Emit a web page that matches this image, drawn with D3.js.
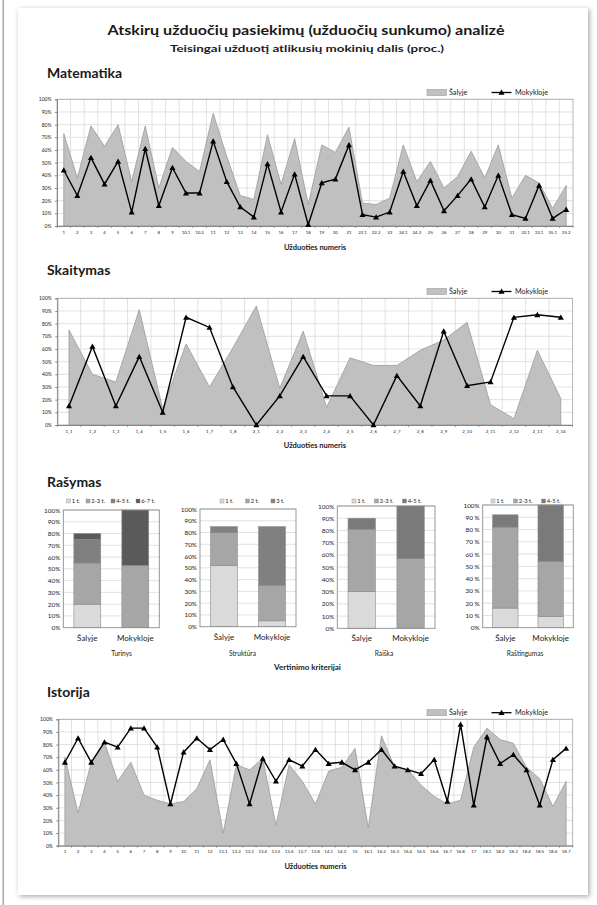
<!DOCTYPE html>
<html><head><meta charset="utf-8">
<script src="https://cdn.jsdelivr.net/npm/d3@7"></script>
<style>
body{margin:0;background:#fff}
svg{display:block}
text{font-family:Lato,"Noto Sans",sans-serif;fill:#1a1a1a}
</style>
</head><body>
<svg id="c" width="597" height="905"></svg>
<script>
// ---------- DATA ----------
const mathCats = ["1","2","3","4","5","6","7","8","9","10.1","10.2","11","12","13","14","15","16","17","18","19","20","21","22.1","22.2","23","24.1","24.2","25","26","27","28","29","30","31","32.1","33.1","35.1","35.2"];
const mathSalyje = [73,38,79,63,80,35,79,30,62,51,43,89,55,24,21,72,33,69,17,64,58,78,18,17,22,64,35,51,30,39,59,38,64,22,40,34,14,32];
const mathMokykloje = [44,24,54,33,51,11,61,16,46,26,26,67,35,15,7,49,11,41,1,34,37,64,9,7,11,43,16,36,12,24,37,15,40,9,6,32,6,13];

const readCats = ["1_1","1_2","1_3","1_4","1_5","1_6","1_7","1_8","2_1","2_2","2_3","2_4","2_5","2_6","2_7","2_8","2_9","2_10","2_11","2_12","2_13","2_14"];
const readSalyje = [75,40,34,91,13,64,30,61,94,29,74,14,53,47,47,59,67,81,16,5,59,21];
const readMokykloje = [15,62,15,54,10,85,77,30,0,23,54,23,23,0,39,15,74,31,34,85,87,85];

const histCats = ["1","2","3","4","5","6","7","8","9","10","11","12","13.1","13.2","13.3","13.4","13.5","13.6","13.7","13.8","14.1","14.2","15","16.1","16.2","16.3","16.4","16.5","16.6","16.7","16.8","17","18.1","18.2","18.3","18.4","18.5","18.6","18.7"];
const histSalyje = [70,26,66,82,51,66,40,36,33,35,45,68,10,64,60,69,16,64,51,33,59,62,77,14,87,62,60,48,39,33,36,78,93,84,81,62,53,31,51];
const histMokykloje = [66,85,66,82,78,93,93,78,33,74,85,76,84,65,33,69,51,68,63,76,65,66,60,66,76,63,60,57,68,35,96,32,86,65,72,60,32,68,77];

const barCats = ["Šalyje","Mokykloje"];
const turinysKeys = ["1 t.","2-3 t.","4-5 t.","6-7 t."];
const turinysSalyje = [20,35,20,5];
const turinysMokykloje = [0,53,0,47];
const strukturaKeys = ["1 t.","2 t.","3 t."];
const strukturaSalyje = [52,28,5];
const strukturaMokykloje = [5,30,50];
const raiskaKeys = ["1 t.","2-3 t.","4-5 t."];
const raiskaSalyje = [30,51,9];
const raiskaMokykloje = [0,57,43];
const rastingKeys = ["1 t.","2-3 t.","4-5 t."];
const rastingSalyje = [16,66,10];
const rastingMokykloje = [9,45,46];
const pctTicks = [0,10,20,30,40,50,60,70,80,90,100];

// ---------- DRAWING ----------
const svg = d3.select("#c");
const defs = svg.append("defs");
const flt = defs.append("filter").attr("id","sh").attr("x","-5%").attr("y","-5%").attr("width","110%").attr("height","110%");
flt.append("feDropShadow").attr("dx",1.5).attr("dy",1.5).attr("stdDeviation",2.5).attr("flood-color","#000").attr("flood-opacity",0.35);

svg.append("rect").attr("x",2.5).attr("y",0).attr("width",1.5).attr("height",905).attr("fill","#a8a8a8");
svg.append("rect").attr("x",18).attr("y",8).attr("width",570).attr("height",887).attr("fill","#fff").attr("filter","url(#sh)");

function txt(x,y,s,size,weight,anchor){
  return svg.append("text").attr("x",x).attr("y",y).text(s)
    .attr("font-size",size).attr("font-weight",weight||"normal").attr("text-anchor",anchor||"start");
}
txt(306,34.5,"Atskirų užduočių pasiekimų (užduočių sunkumo) analizė",13.5,"bold","middle").attr("textLength",397).attr("lengthAdjust","spacingAndGlyphs");
txt(307,51.5,"Teisingai užduotį atlikusių mokinių dalis (proc.)",9.5,"bold","middle").attr("textLength",274).attr("lengthAdjust","spacingAndGlyphs");
txt(47,78,"Matematika",14,"bold");
txt(47,275,"Skaitymas",14,"bold");
txt(47,486.5,"Rašymas",14,"bold");
txt(47,697,"Istorija",14,"bold");

const AREA_FILL = "#c0c0c0", AREA_STROKE = "#9a9a9a";
const tri = d3.symbol().type(d3.symbolTriangle).size(16);

function lineChart(cfg){
  const {cats, sal, mok, left, right, top, bottom, legendY, titleY} = cfg;
  const g = svg.append("g");
  const x = d3.scaleBand().domain(cats).range([left,right]);
  const y = d3.scaleLinear().domain([0,100]).range([bottom,top]);
  const cx = c => x(c) + x.bandwidth()/2;
  const data = cats.map((c,i)=>({c, s:sal[i], m:mok[i]}));

  g.append("g").selectAll("line").data(pctTicks.slice(1)).join("line")
    .attr("x1",left).attr("x2",right).attr("y1",d=>y(d)).attr("y2",d=>y(d))
    .attr("stroke","#d9d9d9").attr("stroke-width",0.8);
  g.append("g").selectAll("line").data(cats.slice(1)).join("line")
    .attr("x1",d=>x(d)).attr("x2",d=>x(d)).attr("y1",top).attr("y2",bottom)
    .attr("stroke","#d9d9d9").attr("stroke-width",0.8);

  g.append("path").datum(data)
    .attr("d", d3.area().x(d=>cx(d.c)).y0(y(0)).y1(d=>y(d.s)))
    .attr("fill",AREA_FILL).attr("stroke",AREA_STROKE).attr("stroke-width",0.8);

  g.append("rect").attr("x",left).attr("y",top).attr("width",right-left).attr("height",bottom-top)
    .attr("fill","none").attr("stroke","#a6a6a6").attr("stroke-width",0.8);

  const ya = g.append("g").attr("transform",`translate(${left},0)`)
    .call(d3.axisLeft(y).tickValues(pctTicks).tickFormat(d=>d+"%").tickSize(2).tickPadding(3.5));
  ya.select(".domain").attr("stroke","#868686");
  ya.selectAll(".tick line").attr("stroke","#868686");
  ya.selectAll("text").attr("font-size",5).attr("font-family","Lato,sans-serif").attr("fill","#1a1a1a");

  const xa = g.append("g").attr("transform",`translate(0,${bottom})`)
    .call(d3.axisBottom(x).tickSize(0).tickPadding(4.5));
  xa.select(".domain").attr("stroke","#868686");
  xa.selectAll("text").attr("font-size",4.4).attr("font-family","Lato,sans-serif").attr("fill","#1a1a1a");
  xa.append("g").selectAll("line").data(d3.range(cats.length+1)).join("line")
    .attr("x1",i=>left+i*x.step()).attr("x2",i=>left+i*x.step()).attr("y1",0).attr("y2",2)
    .attr("stroke","#868686").attr("stroke-width",0.8);

  g.append("path").datum(data)
    .attr("d", d3.line().x(d=>cx(d.c)).y(d=>y(d.m)))
    .attr("fill","none").attr("stroke","#000").attr("stroke-width",1.4);
  g.append("g").selectAll("path").data(data).join("path")
    .attr("d",tri).attr("transform",d=>`translate(${cx(d.c)},${y(d.m)+0.6})`).attr("fill","#000");

  // legend
  const lg = g.append("g");
  lg.append("rect").attr("x",427).attr("y",legendY-3).attr("width",19.5).attr("height",6)
    .attr("fill",AREA_FILL).attr("stroke",AREA_STROKE).attr("stroke-width",0.6);
  lg.append("text").attr("x",449).attr("y",legendY+2.5).text("Šalyje").attr("font-size",7.2);
  lg.append("line").attr("x1",491.5).attr("x2",511.5).attr("y1",legendY).attr("y2",legendY).attr("stroke","#000").attr("stroke-width",1.3);
  lg.append("path").attr("d",tri).attr("transform",`translate(501.5,${legendY+0.5})`).attr("fill","#000");
  lg.append("text").attr("x",515).attr("y",legendY+2.5).text("Mokykloje").attr("font-size",7.2);

  txt((left+right)/2,titleY,"Užduoties numeris",7.5,"bold","middle");
}

lineChart({cats:mathCats, sal:mathSalyje, mok:mathMokykloje, left:57, right:573, top:99.3, bottom:226, legendY:92.5, titleY:249.5});
lineChart({cats:readCats, sal:readSalyje, mok:readMokykloje, left:57.3, right:572.5, top:298.3, bottom:425, legendY:291.5, titleY:447.5});
lineChart({cats:histCats, sal:histSalyje, mok:histMokykloje, left:58.3, right:572.7, top:719.3, bottom:845.7, legendY:712.7, titleY:868.5});

const col4 = ["#dadada","#a6a6a6","#808080","#5a5a5a"];
const col3 = ["#dadada","#a6a6a6","#7a7a7a"];

function barPanel(cfg){
  const {keys, colors, sal, mok, left, right, top, bottom, fmt, title, titleX, legendX, legendGap} = cfg;
  const g = svg.append("g");
  const x = d3.scaleBand().domain(barCats).range([left,right]).paddingInner(0.44).paddingOuter(0.22);
  const y = d3.scaleLinear().domain([0,100]).range([bottom,top]);
  const rows = [sal, mok].map((vals,ri)=>{
    const r = {cat: barCats[ri]};
    keys.forEach((k,i)=> r[k] = vals[i]);
    return r;
  });
  const stack = d3.stack().keys(keys)(rows);

  g.append("g").selectAll("line").data(pctTicks.slice(1)).join("line")
    .attr("x1",left).attr("x2",right).attr("y1",d=>y(d)).attr("y2",d=>y(d))
    .attr("stroke","#d9d9d9").attr("stroke-width",0.8);

  stack.forEach((layer,li)=>{
    g.append("g").selectAll("rect").data(layer.filter(d=>d[1]-d[0]>0)).join("rect")
      .attr("x",d=>x(d.data.cat)).attr("width",x.bandwidth())
      .attr("y",d=>y(d[1])).attr("height",d=>y(d[0])-y(d[1]))
      .attr("fill",colors[li]).attr("stroke","#8a8a8a").attr("stroke-width",0.6);
  });

  g.append("rect").attr("x",left).attr("y",top).attr("width",right-left).attr("height",bottom-top)
    .attr("fill","none").attr("stroke","#8c8c8c").attr("stroke-width",0.9);

  const ya = g.append("g").attr("transform",`translate(${left},0)`)
    .call(d3.axisLeft(y).tickValues(pctTicks).tickFormat(fmt).tickSize(0).tickPadding(3));
  ya.select(".domain").remove();
  ya.selectAll("text").attr("font-size",6.4).attr("font-family","Lato,sans-serif").attr("fill","#1a1a1a");

  const xa = g.append("g").attr("transform",`translate(0,${bottom})`)
    .call(d3.axisBottom(x).tickSize(0).tickPadding(7.5));
  xa.select(".domain").remove();
  xa.selectAll("text").attr("font-size",8).attr("font-family","Lato,sans-serif").attr("fill","#1a1a1a");

  txt(titleX,655.5,title,6.6,"normal","middle");

  // legend
  let lx = legendX;
  keys.forEach((k,i)=>{
    g.append("rect").attr("x",lx).attr("y",499).attr("width",4).attr("height",4)
      .attr("fill",colors[i]).attr("stroke","#8a8a8a").attr("stroke-width",0.4);
    const t = g.append("text").attr("x",lx+5.2).attr("y",503.3).text(k).attr("font-size",5.8).attr("fill","#555");
    lx += 5.2 + t.node().getComputedTextLength() + legendGap;
  });
}

const f1 = d=>d+"%";
const f2 = d=>(d===0||d===100)? d+"%" : d+" %";
barPanel({keys:turinysKeys, colors:col4, sal:turinysSalyje, mok:turinysMokykloje, left:63.3, right:159.3, top:510, bottom:627.7, fmt:f1, title:"Turinys", titleX:121.5, legendX:66.5, legendGap:6});
barPanel({keys:strukturaKeys, colors:col3.slice(0,2).concat(["#808080"]), sal:strukturaSalyje, mok:strukturaMokykloje, left:200, right:296, top:509, bottom:626.7, fmt:f1, title:"Struktūra", titleX:242.5, legendX:220, legendGap:12});
barPanel({keys:raiskaKeys, colors:col3, sal:raiskaSalyje, mok:raiskaMokykloje, left:337.3, right:435, top:506, bottom:628.3, fmt:f1, title:"Raiška", titleX:384, legendX:352, legendGap:9});
barPanel({keys:rastingKeys, colors:col3, sal:rastingSalyje, mok:rastingMokykloje, left:482.7, right:573.3, top:505, bottom:627.7, fmt:f2, title:"Raštingumas", titleX:525, legendX:491, legendGap:9});

txt(307.5,669.5,"Vertinimo kriterijai",8,"bold","middle");
</script>
</body></html>
